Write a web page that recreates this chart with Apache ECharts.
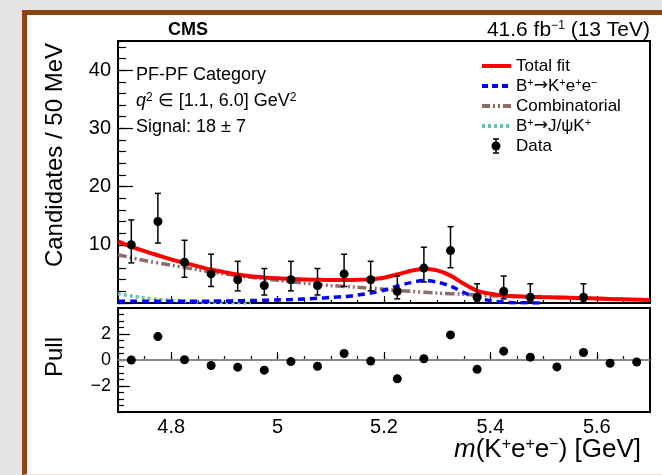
<!DOCTYPE html>
<html>
<head>
<meta charset="utf-8">
<script src="https://cdn.jsdelivr.net/npm/echarts@6/dist/echarts.min.js"></script>
<style>
html, body { margin: 0; padding: 0; width: 662px; height: 475px; overflow: hidden; background: #e4e4e4; }
#panel { position: absolute; left: 22px; top: 10px; width: 640px; height: 465px; background: #fff;
  border-left: 5px solid #8b4513; border-top: 5px solid #8b4513; border-bottom: 1px solid #f2dcd2; box-sizing: border-box; }
#chart { position: absolute; left: 0; top: 0; width: 662px; height: 475px; }
</style>
</head>
<body>
<div id="panel"></div>
<div id="chart"></div>
<script>
// data, bins of 50 MeV
const binCenters = [4.725, 4.775, 4.825, 4.875, 4.925, 4.975, 5.025, 5.075, 5.125, 5.175,
  5.225, 5.275, 5.325, 5.375, 5.425, 5.475, 5.525, 5.575, 5.625, 5.675];
const counts  = [10, 14, 7, 5, 4, 3, 4, 3, 5, 4, 2, 6, 9, 1, 2, 1, 0, 1, 0, 0];
const errLow  = [3.11, 3.70, 2.58, 2.16, 1.91, 1.63, 1.91, 1.63, 2.16, 1.91, 1.29, 2.38, 2.94, 0.83, 1.29, 0.83, 0, 0.83, 0, 0];
const errHigh = [4.27, 4.83, 3.77, 3.38, 3.16, 2.92, 3.16, 2.92, 3.38, 3.16, 2.64, 3.58, 4.11, 2.30, 2.64, 2.30, 0, 2.30, 0, 0];
const pulls   = [0.0, 1.8, 0.02, -0.42, -0.55, -0.78, -0.12, -0.48, 0.5, -0.08,
  -1.45, 0.1, 1.93, -0.72, 0.68, 0.22, -0.53, 0.58, -0.25, -0.15];

// fit curves
const fineMass = [4.700, 4.725, 4.750, 4.775, 4.800, 4.825, 4.850, 4.875, 4.900, 4.925,
  4.950, 4.975, 5.000, 5.025, 5.050, 5.075, 5.100, 5.125, 5.150, 5.175,
  5.200, 5.225, 5.250, 5.275, 5.300, 5.325, 5.350, 5.375, 5.400, 5.425,
  5.450, 5.475, 5.500, 5.525, 5.550, 5.575, 5.600, 5.625, 5.650, 5.675, 5.700];
const totalFit = [10.6, 9.7, 8.9, 8.2, 7.5, 6.9, 6.3, 5.75, 5.3, 4.9,
  4.6, 4.4, 4.25, 4.15, 4.05, 4.0, 3.95, 3.95, 4.0, 4.1,
  4.35, 4.9, 5.5, 5.9, 5.6, 4.7, 3.3, 2.1, 1.6, 1.3,
  1.15, 1.05, 1.0, 0.95, 0.9, 0.83, 0.78, 0.7, 0.63, 0.57, 0.5];
const signalFit = [0.3, 0.3, 0.3, 0.3, 0.3, 0.3, 0.3, 0.32, 0.35, 0.38,
  0.42, 0.47, 0.53, 0.6, 0.7, 0.8, 0.95, 1.1, 1.35, 1.7,
  2.2, 2.9, 3.5, 3.85, 3.6, 2.9, 1.8, 0.9, 0.4, 0.15,
  0.05, 0.02, 0];
const jpsiFit = [1.6, 1.2, 0.85, 0.6, 0.45, 0.3, 0.2, 0.12, 0.07, 0.03, 0];
const combMass = [4.70, 4.75, 4.80, 4.85, 4.90, 4.95, 5.00, 5.05, 5.10, 5.15, 5.20,
  5.25, 5.30, 5.35, 5.40, 5.45, 5.50, 5.55, 5.60, 5.65, 5.70];
const combFit = [8.3, 7.3, 6.5, 5.7, 5.0, 4.4, 3.9, 3.4, 3.0, 2.7, 2.35,
  2.0, 1.7, 1.5, 1.25, 1.1, 1.0, 0.88, 0.78, 0.65, 0.5];

// ticks
const xMajor = [4.8, 5.0, 5.2, 5.4, 5.6];
const xMajorLabels = ['4.8', '5', '5.2', '5.4', '5.6'];
const yMajor = [0, 10, 20, 30, 40];
const yLabels = [10, 20, 30, 40];
const pullMajor = [-2, 0, 2];
const pullLabels = ['\u22122', '0', '2'];

const FONT = '"Liberation Sans", Arial, Helvetica, sans-serif';
const RED = '#ff0000', BLUE = '#0000ff', COMB = '#8c6b6b', JPSI = '#6cc29c';

function pairs(xs, ys) { return ys.map((y, i) => [xs[i], y]); }

const points = [];
binCenters.forEach((x, i) => {
  if (counts[i] > 0) points.push([x, counts[i], errLow[i], errHigh[i]]);
});

const chart = echarts.init(document.getElementById('chart'), null, { renderer: 'canvas' });

function noLine() { return { show: false }; }

// rich styles: superscript + italic, sized from the main font
function richFor(size, supSize) {
  return {
    s: { fontSize: supSize, fontFamily: FONT, verticalAlign: 'top', textVerticalAlign: 'top' },
    i: { fontSize: size, fontFamily: FONT, fontStyle: 'italic' },
    a: { fontSize: size, fontFamily: '"DejaVu Sans", sans-serif' }
  };
}

function txt(x, y, text, size, opts) {
  opts = opts || {};
  return {
    type: 'text', x: x, y: y, rotation: opts.rotation || 0, z: 100,
    style: {
      text: text, fill: '#000', textFill: '#000',
      font: (opts.bold ? 'bold ' : '') + size + 'px ' + FONT,
      align: opts.align || 'left', textAlign: opts.align || 'left',
      verticalAlign: 'middle', textVerticalAlign: 'middle',
      rich: opts.sup ? richFor(size, opts.sup) : undefined
    }
  };
}

function legendRow(y, color, dash, width) {
  return {
    type: 'line', z: 100,
    shape: { x1: 482, y1: y, x2: 511, y2: y },
    style: { stroke: color, lineWidth: width, lineDash: dash }
  };
}

const option = {
  animation: false,
  grid: [
    { left: 118, top: 41, width: 532, height: 262, show: true, borderColor: '#000', borderWidth: 2, backgroundColor: 'transparent' },
    { left: 118, top: 308, width: 532, height: 104, show: true, borderColor: '#000', borderWidth: 2, backgroundColor: 'transparent' }
  ],
  xAxis: [
    { gridIndex: 0, type: 'value', position: 'bottom', min: 4.7, max: 5.7,
      axisLine: noLine(), splitLine: noLine(),
      axisTick: { inside: true, length: 7, customValues: xMajor, lineStyle: { color: '#000', width: 1.2 } },
      axisLabel: { show: false } },
    { gridIndex: 0, type: 'value', position: 'bottom', min: 4.7, max: 5.7, interval: 0.05,
      axisLine: noLine(), splitLine: noLine(),
      axisTick: { inside: true, length: 3, lineStyle: { color: '#000', width: 1.2 } },
      axisLabel: { show: false } },
    { gridIndex: 1, type: 'value', position: 'bottom', min: 4.7, max: 5.7,
      axisLine: noLine(), splitLine: noLine(),
      axisTick: { inside: true, length: 8, customValues: xMajor, lineStyle: { color: '#000', width: 1.2 } },
      axisLabel: { customValues: xMajor, margin: 5, color: '#000', fontSize: 20, fontFamily: FONT,
        formatter: v => xMajorLabels[xMajor.findIndex(t => Math.abs(t - v) < 1e-6)] } },
    { gridIndex: 1, type: 'value', position: 'bottom', min: 4.7, max: 5.7, interval: 0.05,
      axisLine: noLine(), splitLine: noLine(),
      axisTick: { inside: true, length: 4, lineStyle: { color: '#000', width: 1.2 } },
      axisLabel: { show: false } }
  ],
  yAxis: [
    { gridIndex: 0, type: 'value', position: 'left', min: 0, max: 45,
      axisLine: noLine(), splitLine: noLine(),
      axisTick: { inside: true, length: 15, customValues: yMajor, lineStyle: { color: '#000', width: 1.2 } },
      axisLabel: { customValues: yLabels, margin: 7, color: '#000', fontSize: 20, fontFamily: FONT } },
    { gridIndex: 0, type: 'value', position: 'left', min: 0, max: 45, interval: 2,
      axisLine: noLine(), splitLine: noLine(),
      axisTick: { inside: true, length: 8, lineStyle: { color: '#000', width: 1.2 } },
      axisLabel: { show: false } },
    { gridIndex: 1, type: 'value', position: 'left', min: -4, max: 4,
      axisLine: noLine(), splitLine: noLine(),
      axisTick: { inside: true, length: 12, customValues: pullMajor, lineStyle: { color: '#000', width: 1.2 } },
      axisLabel: { customValues: pullMajor, margin: 7, color: '#000', fontSize: 18, fontFamily: FONT,
        formatter: v => pullLabels[pullMajor.indexOf(v)] } },
    { gridIndex: 1, type: 'value', position: 'left', min: -4, max: 4, interval: 0.5,
      axisLine: noLine(), splitLine: noLine(),
      axisTick: { inside: true, length: 6, lineStyle: { color: '#000', width: 1.2 } },
      axisLabel: { show: false } }
  ],
  series: [
    { name: 'Combinatorial', type: 'line', xAxisIndex: 0, yAxisIndex: 0, data: pairs(combMass, combFit),
      showSymbol: false, smooth: 0.3, clip: true, silent: true,
      lineStyle: { color: COMB, width: 3.5, type: [9, 3, 2, 3, 2, 3] } },
    { name: 'B+->J/psiK+', type: 'line', xAxisIndex: 0, yAxisIndex: 0, data: pairs(fineMass, jpsiFit),
      showSymbol: false, smooth: 0.3, clip: true, silent: true,
      lineStyle: { color: JPSI, width: 3.5, type: [3, 3] } },
    { name: 'B+->K+e+e-', type: 'line', xAxisIndex: 0, yAxisIndex: 0, data: pairs(fineMass, signalFit),
      showSymbol: false, smooth: 0.3, clip: true, silent: true,
      lineStyle: { color: BLUE, width: 3.5, type: [7, 5] } },
    { name: 'Total fit', type: 'line', xAxisIndex: 0, yAxisIndex: 0, data: pairs(fineMass, totalFit),
      showSymbol: false, smooth: 0.3, clip: true, silent: true,
      lineStyle: { color: RED, width: 4 } },
    { name: 'Data', type: 'custom', xAxisIndex: 0, yAxisIndex: 0, data: points, z: 10,
      encode: { x: 0, y: 1 },
      renderItem: function (params, api) {
        const x = api.value(0), y = api.value(1);
        const c = api.coord([x, y]);
        const top = api.coord([x, y + api.value(3)]);
        const bot = api.coord([x, y - api.value(2)]);
        const st = { stroke: '#000', lineWidth: 1.5 };
        return { type: 'group', children: [
          { type: 'line', shape: { x1: c[0], y1: top[1], x2: c[0], y2: bot[1] }, style: st },
          { type: 'line', shape: { x1: c[0] - 3, y1: top[1], x2: c[0] + 3, y2: top[1] }, style: st },
          { type: 'line', shape: { x1: c[0] - 3, y1: bot[1], x2: c[0] + 3, y2: bot[1] }, style: st },
          { type: 'circle', shape: { cx: c[0], cy: c[1], r: 4.5 }, style: { fill: '#000' } }
        ] };
      } },
    { name: 'Pull', type: 'scatter', xAxisIndex: 2, yAxisIndex: 2, data: pairs(binCenters, pulls),
      symbol: 'circle', symbolSize: 9, itemStyle: { color: '#000', opacity: 1 }, silent: true, z: 10,
      markLine: { silent: true, symbol: 'none', label: { show: false },
        lineStyle: { color: '#888', width: 2, type: 'solid' }, data: [{ yAxis: 0 }] } }
  ],
  graphic: [
    txt(168, 30, 'CMS', 18, { bold: true }),
    txt(650, 30, '41.6 fb{s|\u22121} (13 TeV)', 21, { align: 'right', sup: 12 }),
    txt(136, 75, 'PF-PF Category', 18),
    txt(136, 101, '{i|q}{s|2} \u2208 [1.1, 6.0] GeV{s|2}', 18, { sup: 12 }),
    txt(136, 127, 'Signal: 18 \u00b1 7', 18),
    legendRow(66, RED, null, 4),
    legendRow(86, BLUE, [6, 4], 4),
    legendRow(106, COMB, [8, 3, 2, 3, 2, 3], 4),
    legendRow(126, JPSI, [3, 3], 4),
    { type: 'line', z: 100, shape: { x1: 496, y1: 139, x2: 496, y2: 153 }, style: { stroke: '#000', lineWidth: 1.5 } },
    { type: 'line', z: 100, shape: { x1: 493, y1: 139, x2: 499, y2: 139 }, style: { stroke: '#000', lineWidth: 1.5 } },
    { type: 'line', z: 100, shape: { x1: 493, y1: 153, x2: 499, y2: 153 }, style: { stroke: '#000', lineWidth: 1.5 } },
    { type: 'circle', z: 100, shape: { cx: 496, cy: 146, r: 4.5 }, style: { fill: '#000' } },
    txt(516, 66, 'Total fit', 17),
    txt(516, 86, 'B{s|+}{a|\u2192}K{s|+}e{s|+}e{s|\u2212}', 17, { sup: 11 }),
    txt(516, 106, 'Combinatorial', 17),
    txt(516, 126, 'B{s|+}{a|\u2192}J/\u03c8K{s|+}', 17, { sup: 11 }),
    txt(516, 146, 'Data', 17),
    txt(55, 155, 'Candidates / 50 MeV', 24, { align: 'center', rotation: Math.PI / 2 }),
    txt(55, 357, 'Pull', 24, { align: 'center', rotation: Math.PI / 2 }),
    txt(641, 450, '{i|m}(K{s|+}e{s|+}e{s|\u2212}) [GeV]', 26, { align: 'right', sup: 16 })
  ]
};

chart.setOption(option);
</script>
</body>
</html>
